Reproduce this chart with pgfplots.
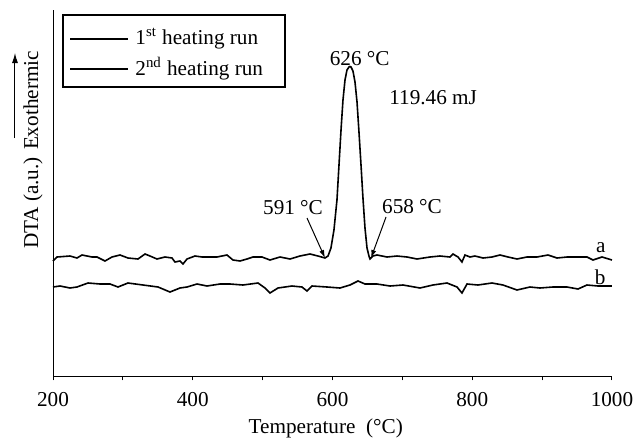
\documentclass[border=0pt]{standalone}
\usepackage{fontspec}
\setmainfont{Liberation Serif}
\usepackage{pgfplots}
\pgfplotsset{compat=1.18}
\usetikzlibrary{arrows.meta}

% run a: 1st heating, run b: 2nd heating (y in arbitrary units)
\begin{document}
\begin{tikzpicture}[font=\fontsize{10.6pt}{12.7pt}\selectfont]
\begin{axis}[
at={(26.5pt,-188pt)},
anchor=south west,
scale only axis,
width=279.5pt,
height=183pt,
xmin=200,
xmax=1000,
ymin=0,
ymax=366,
clip=false,
axis x line*=bottom,
axis y line*=left,
axis line style={-, line width=0.5pt, black},
xtick={200,300,...,1000},
xticklabels={200,,400,,600,,800,,1000},
ytick=\empty,
tick align=outside,
major tick length=2.2pt,
tick style={line width=0.5pt, black},
xticklabel style={yshift=-2.3pt},
/pgf/number format/assume math mode=true,
xlabel={Temperature\ \ (°C)},
xlabel style={at={(axis description cs:0.488,0)}, anchor=center, yshift=-26pt},
ylabel={DTA (a.u.) Exothermic},
ylabel style={at={(axis description cs:-0.0358,0.6175)}, anchor=center},
]
\addplot[black, line width=0.8pt] coordinates {
(200,115) (205.7,119) (224.3,120) (234.3,118) (241.5,121) (248.7,120)
(255.8,119) (263.0,119) (274.4,115) (284.4,119) (295.9,121) (307.3,118)
(321.6,117) (331.7,122) (338.8,120) (348.8,117) (360.3,119) (370.3,118)
(374.6,114) (381.7,115) (386.0,112) (391.8,117) (403.2,120) (413.2,119)
(424.7,119) (434.7,119) (449.0,121) (457.6,116) (467.6,115) (477.6,117)
(486.2,119) (499.1,119) (510.5,116) (524.9,119) (539.2,117) (553.5,120)
(567.8,122) (579.2,120) (589.3,118)
(593.6,120) (597.8,128) (602.1,146) (606.4,176) (609.3,211) (612.2,246)
(615.0,276) (617.9,296) (620.7,306) (623.6,309) (625.0,309.5) (626.5,309)
(629.3,305) (632.2,294) (635.1,274) (637.9,244) (640.8,211) (643.6,178)
(646.5,148) (649.4,128) (652.2,120) (653.7,117)
(658.0,120) (663.7,121) (678.0,119) (692.3,120) (706.6,119) (720.9,117)
(739.5,119) (753.8,120) (768.1,119) (772.4,122) (779.6,119) (785.3,114)
(789.6,121) (796.8,119) (803.9,120) (815.4,118) (828.3,119) (839.7,121)
(851.2,119) (864.0,117) (878.3,119) (892.7,119) (908.4,121) (921.3,118)
(935.6,119) (949.9,119) (964.2,119) (972.8,116) (985.7,119) (1000,116)
};
\addplot[black, line width=0.8pt] coordinates {
(200,89) (210.0,90) (224.3,88) (234.3,89) (250.1,93) (267.3,92)
(281.6,92) (293.0,89) (307.3,93) (328.8,91) (350.3,89) (367.4,84)
(381.7,88) (391.8,89) (406.1,92) (420.4,90) (439.0,92) (453.3,92)
(471.9,91) (493.4,93) (503.4,88) (510.5,83) (522.0,88) (542.0,90)
(556.3,89) (563.5,85) (570.7,90) (592.1,89) (610.7,88) (625.0,91)
(636.5,95) (646.5,92) (663.7,92) (682.3,90) (700.9,91) (725.2,88)
(743.8,91) (763.9,93) (778.2,89) (785.3,83) (792.5,92) (808.2,91)
(828.3,93) (844.0,91) (864.0,86) (882.6,89) (896.9,88) (915.5,89)
(935.6,89) (951.3,87) (964.2,91) (979.9,90) (1000,90)
};
\node at (axis cs:639,317) {626 °C};
\node at (axis cs:744,278) {119.46 mJ};
\node at (axis cs:543.5,168) {591 °C};
\node at (axis cs:713.8,169) {658 °C};
\node at (axis cs:984,128) {a};
\node at (axis cs:983,99) {b};
\draw[-{Latex[length=4pt,width=2.5pt]}, line width=0.5pt] (axis cs:563.5,158) -- (axis cs:589.3,118);
\draw[-{Latex[length=4pt,width=2.5pt]}, line width=0.5pt] (axis cs:676.6,159) -- (axis cs:655.1,118);
\draw[-{Latex[length=5pt,width=3pt]}, line width=0.5pt] (rel axis cs:-0.068,0.650) -- (rel axis cs:-0.068,0.8825);
\end{axis}
% legend box
\draw[line width=0.6pt] (31.5pt,-7.5pt) rectangle (142.5pt,-43.5pt);
\draw[line width=0.6pt] (35pt,-19.5pt) -- (64pt,-19.5pt);
\draw[line width=0.6pt] (35pt,-34.5pt) -- (64pt,-34.5pt);
\node[anchor=west, inner sep=0pt] at (67.5pt,-19.5pt) {1\textsuperscript{st} heating run};
\node[anchor=west, inner sep=0pt] at (67.5pt,-34.5pt) {2\textsuperscript{nd} heating run};
\pgfresetboundingbox
\useasboundingbox (0,0) rectangle (320.5pt,-219.5pt);
\end{tikzpicture}
\end{document}
